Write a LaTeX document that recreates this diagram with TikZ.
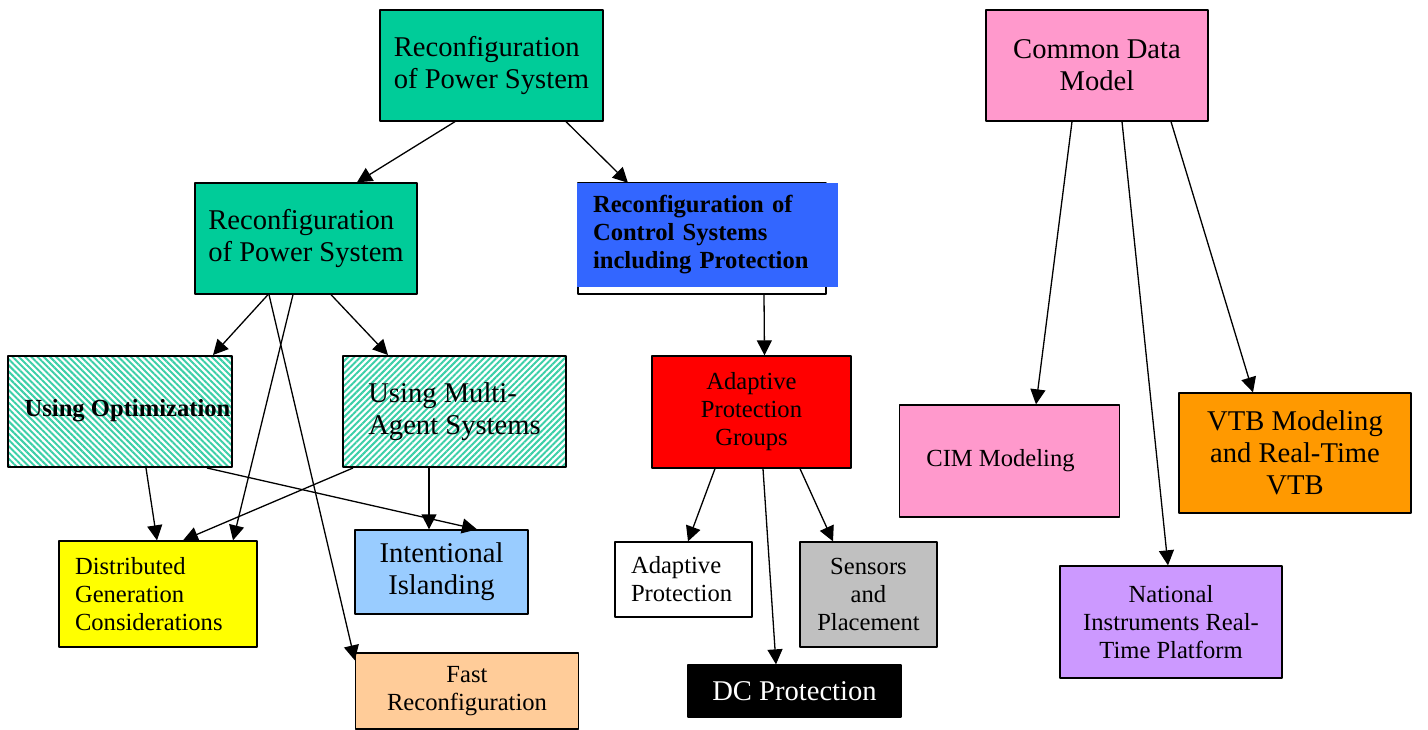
\documentclass[tikz,border=0pt]{standalone}
\usepackage{fontspec}
\setmainfont{Liberation Serif}
\usetikzlibrary{arrows.meta,patterns.meta}
\definecolor{powgreen}{HTML}{00CC99}
\definecolor{ctrlblue}{HTML}{3366FF}
\definecolor{hatchcol}{HTML}{3CCFA8}
\definecolor{islblue}{HTML}{99CCFF}
\definecolor{peach}{HTML}{FFCC99}
\definecolor{sensgray}{HTML}{C0C0C0}
\definecolor{cdmpink}{HTML}{FF99CC}
\definecolor{vtborange}{HTML}{FF9900}
\definecolor{nilav}{HTML}{CC99FF}
\definecolor{dgyellow}{HTML}{FFFF00}
\tikzset{
  box/.style 2 args={draw, line width=1.3pt, minimum width=#1, minimum height=#2, inner sep=0pt},
  lgtext/.style={font=\fontsize{28.6}{32}\selectfont},
  smtext/.style={font=\fontsize{24.6}{28}\selectfont},
  hatchL/.style={pattern={Lines[angle=-45,distance=4.4pt,line width=2pt]}, pattern color=hatchcol},
  hatchR/.style={pattern={Lines[angle=45,distance=4.4pt,line width=2pt]}, pattern color=hatchcol}
}
\begin{document}
\begin{tikzpicture}[x=1pt, y=-1pt, >={Triangle[length=15pt,width=15pt]}, line join=round]
	\useasboundingbox (0,0) rectangle (1428,730);
	% power system branch
	\node[box={223}{111}, fill=powgreen, lgtext, align=left] (top) at (491.5,65.5) {Reconfiguration\\of Power System};
	\node[box={222}{111}, fill=powgreen, lgtext, align=left] (rps2) at (306,238.5) {Reconfiguration\\of Power System};
	\node[box={224}{111}, hatchL, smtext] (opt) at (120,411.5) {\raisebox{7pt}{\hspace*{15pt}\bfseries Using Optimization}};
	\node[box={223}{111}, hatchR, lgtext, align=left] (mas) at (454.5,411.5) {Using Multi-\\Agent Systems};
	\node[box={198}{106}, fill=dgyellow, smtext, text width=166pt, align=left] (dg) at (158,594) {Distributed\\Generation\\Considerations};
	\node[box={173}{84}, fill=islblue, lgtext, align=center] (isl) at (441.5,572) {Intentional\\Islanding};
	\node[box={223}{76}, fill=peach, smtext, align=center] (fast) at (467,691) {Fast\\Reconfiguration};
	% control branch
	\draw[line width=1.3pt] (578,183) rectangle (826,294);
	\node[fill=ctrlblue, minimum width=261, minimum height=104, inner sep=0pt, smtext, text width=229pt, align=left] (ctrl) at (707.5,235) {\bfseries Reconfiguration of\\Control Systems\\including Protection};
	\node[box={199}{112}, fill=red, smtext, align=center] (apg) at (751.5,412) {Adaptive\\Protection\\Groups};
	\node[box={137}{75}, fill=white, smtext, text width=105pt, align=left] (ap) at (683.5,579.5) {Adaptive\\Protection};
	\node[box={137}{105}, fill=sensgray, smtext, align=center] (sens) at (868.5,594.5) {Sensors\\and\\Placement};
	\node[box={213}{52}, fill=black, text=white, lgtext] (dc) at (794.5,691) {DC Protection};
	% data model branch
	\node[box={222}{111}, fill=cdmpink, lgtext, align=center] (cdm) at (1097,65.5) {Common Data\\Model};
	\node[box={220}{112}, fill=cdmpink, smtext] (cim) at (1009.5,461) {\raisebox{7pt}{CIM Modeling\hspace*{18pt}}};
	\node[box={232}{120}, fill=vtborange, lgtext, align=center] (vtb) at (1295,453) {VTB Modeling\\and Real-Time\\VTB};
	\node[box={222}{112}, fill=nilav, smtext, align=center] (ni) at (1171,622) {National\\Instruments Real-\\Time Platform};
	% connectors
	\begin{scope}[line width=1.3pt]
	\draw[->] ([xshift=-36.5]top.south) -- ([xshift=51]rps2.north);
	\draw[->] ([xshift=74.5]top.south) -- ([xshift=-79.5]ctrl.north);
	\draw[->] ([xshift=-38]rps2.south) -- ([xshift=93]opt.north);
	\draw[->] ([xshift=25]rps2.south) -- ([xshift=-66.5]mas.north);
	\draw[->] ([xshift=-13]rps2.south) -- ([xshift=75]dg.north);
	\draw[->] ([xshift=-37]rps2.south) -- ([yshift=-8]fast.north west);
	\draw[->] ([xshift=26]opt.south) -- ([xshift=-1]dg.north);
	\draw[->] ([xshift=87]opt.south) -- ([xshift=35.5]isl.north);
	\draw[->] ([xshift=-101.5]mas.south) -- ([xshift=25]dg.north);
	\draw[->] ([xshift=-25.5]mas.south) -- ([xshift=-12.5]isl.north);
	\draw[->] ([xshift=56.5,yshift=-7]ctrl.south) -- ([xshift=13]apg.north);
	\draw[->] ([xshift=-36.5]apg.south) -- ([xshift=4.5]ap.north);
	\draw[->] ([xshift=11.5]apg.south) -- ([xshift=-18.5]dc.north);
	\draw[->] ([xshift=48.5]apg.south) -- ([xshift=-35.5]sens.north);
	\draw[->] ([xshift=-25]cdm.south) -- ([xshift=26.5]cim.north);
	\draw[->] ([xshift=25]cdm.south) -- ([xshift=-3]ni.north);
	\draw[->] ([xshift=74]cdm.south) -- ([xshift=-42]vtb.north);
	\end{scope}
\end{tikzpicture}
\end{document}
